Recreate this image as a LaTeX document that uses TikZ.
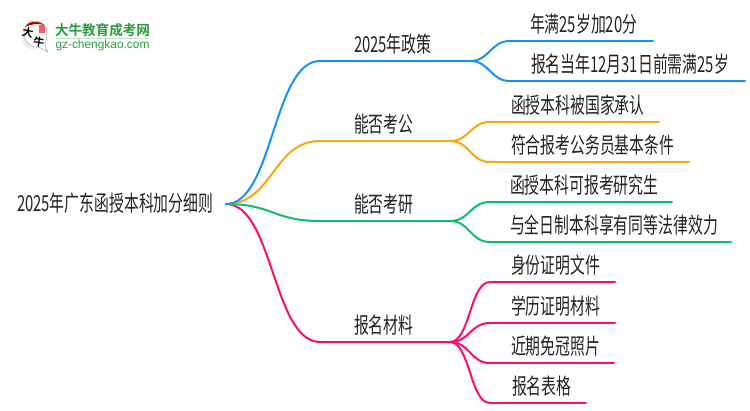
\documentclass[tikz,border=0pt]{standalone}
\usepackage{fontspec}
\setmainfont{Liberation Sans}
\newfontfamily\cjkw[FakeStretch=0.675]{Noto Sans CJK SC}
\newfontfamily\cjkb[FakeStretch=0.97]{Noto Sans CJK SC Bold}
\newfontfamily\cjkl{Noto Sans CJK SC Bold}
\usetikzlibrary{calc}
\definecolor{cblue}{HTML}{1490FF}
\definecolor{corange}{HTML}{F8A80F}
\definecolor{cgreen}{HTML}{0CBF6E}
\definecolor{cpink}{HTML}{FF0B6E}
\definecolor{logog}{HTML}{2E9A3E}
\definecolor{ink}{HTML}{222222}
\tikzset{
  every node/.style={inner sep=0,outer sep=0,text=ink},
  lab/.style={anchor=south west,minimum height=31pt,text height=16.7pt,text depth=2.3pt,align=left,font=\cjkw\fontsize{22}{22}\selectfont,text width=#1},
  link/.style={line width=2pt,line cap=round},
}
\newcommand\curve[3]{\draw[link,#1] (#2) .. controls ($(#2)!.5!(#3 |- #2)$) and ($(#2 |- #3)!.5!(#3)$) .. (#3);}
\newcommand\under[2]{\draw[link,#1] (#2.south west) -- (#2.south east);}
\begin{document}
\begin{tikzpicture}[x=1pt,y=-1pt]
\useasboundingbox (0,0) rectangle (750,410);
% logo
\fill[black!6] (33.5,37) circle (12.5);
\path[fill=white,draw=black!30,line width=.6pt] (35,21) .. controls (27,21) and (23.5,28) .. (24,35) .. controls (24.5,42) and (31,48) .. (39,47) .. controls (42,49) and (45,51) .. (48,52) .. controls (46,49) and (45,47) .. (45,44) .. controls (48,38) and (48,28) .. (43,24) .. controls (41,22) and (38,21) .. (35,21) -- cycle;
\fill[red!70!black] (25,27) .. controls (28,21) and (38,20) .. (44,25) .. controls (38,23) and (31,24) .. (25,27) -- cycle;
\fill[red!65!white] (38.5,25) rectangle (45,33);
\node[font=\cjkl\fontsize{11}{11}\selectfont,text=black,rotate=-12] (logoa) at (28,33) {大};
\node[font=\cjkl\fontsize{11}{11}\selectfont,text=black,rotate=-8] (logob) at (39,42.5) {牛};
\node[anchor=west,font=\cjkb\fontsize{14}{14}\selectfont,text=logog] (logot) at (55,30) {大牛教育成考网};
\draw[logog!30,line width=.8pt] (55,38.5) -- (150,38.5);
\node[anchor=west,font=\fontsize{11.9}{11.9}\selectfont,text=logog] (logou) at (55.5,45.5) {gz-chengkao.com};
% nodes
\node[anchor=west,text height=16.7pt,text depth=2.3pt,align=left,text width=209pt,font=\cjkw\fontsize{22}{22}\selectfont] (root) at (17,204) {2025年广东函授本科加分细则};
\coordinate (start) at (226,204);
\node[lab=150pt] (b1) at (320,61) {\hspace*{34pt}2025年政策};
\node[lab=130pt] (b2) at (320,141) {\hspace*{34pt}能否考公};
\node[lab=130pt] (b3) at (320,221) {\hspace*{34pt}能否考研};
\node[lab=130pt] (b4) at (320,342) {\hspace*{34pt}报名材料};
\node[lab=143pt] (c1) at (510,41) {\hspace*{20pt}年满25岁加20分};
\node[lab=235pt] (c2) at (510,81) {\hspace*{21pt}报名当年12月31日前需满25岁};
\node[lab=169pt] (c3) at (490,122) {\hspace*{21pt}函授本科被国家承认};
\node[lab=199pt] (c4) at (490,162) {\hspace*{21pt}符合报考公务员基本条件};
\node[lab=182pt] (c5) at (490,202) {\hspace*{20pt}函授本科可报考研究生};
\node[lab=241pt] (c6) at (490,242) {\hspace*{20pt}与全日制本科享有同等法律效力};
\node[lab=125pt] (c7) at (490,282) {\hspace*{21pt}身份证明文件};
\node[lab=125pt] (c8) at (490,323) {\hspace*{21pt}学历证明材料};
\node[lab=124pt] (c9) at (490,363) {\hspace*{21pt}近期免冠照片};
\node[lab=96pt] (c10) at (490,403) {\hspace*{22pt}报名表格};
% connectors
\curve{cpink}{start}{b4.south west}
\curve{cgreen}{start}{b3.south west}
\curve{corange}{start}{b2.south west}
\curve{cblue}{start}{b1.south west}
\foreach \b/\c in {b1/cblue,b2/corange,b3/cgreen,b4/cpink}{\under{\c}{\b}}
\foreach \b/\k/\c in {b1/c1/cblue,b1/c2/cblue,b2/c3/corange,b2/c4/corange,b3/c5/cgreen,b3/c6/cgreen,b4/c7/cpink,b4/c8/cpink,b4/c9/cpink,b4/c10/cpink}{
  \curve{\c}{\b.south east}{\k.south west}
  \under{\c}{\k}
}
\end{tikzpicture}
\end{document}
